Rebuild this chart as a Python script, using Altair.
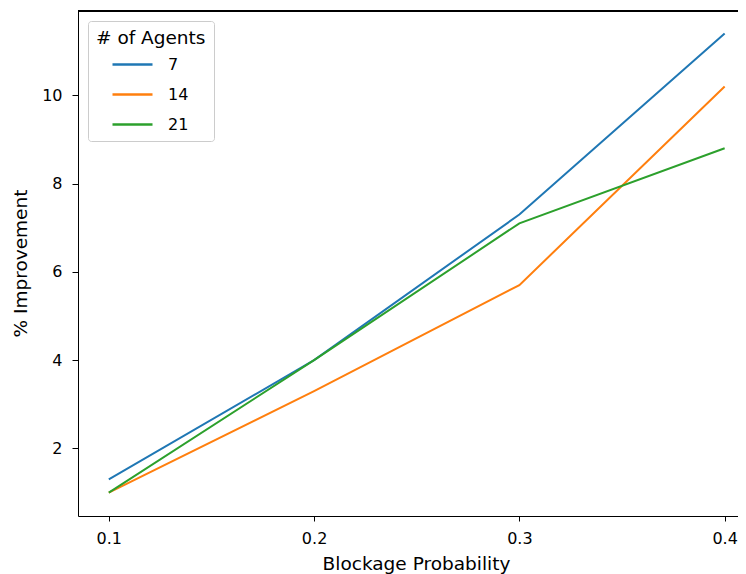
import altair as alt
import pandas as pd

blockage = [0.1, 0.2, 0.3, 0.4]
agents_7 = [1.3, 4.0, 7.3, 11.4]
agents_14 = [1.0, 3.3, 5.7, 10.2]
agents_21 = [1.0, 4.0, 7.1, 8.8]
series_names = ["7", "14", "21"]
colors = ["#1f77b4", "#ff7f0e", "#2ca02c"]

rows = []
for name, vals in zip(series_names, [agents_7, agents_14, agents_21]):
    for x, y in zip(blockage, vals):
        rows.append({"p": x, "imp": y, "agents": name})
df = pd.DataFrame(rows)

W, H = 660, 505
FONT = "DejaVu Sans"

lines = alt.Chart(df).mark_line(strokeWidth=2, clip=True).encode(
    x=alt.X("p:Q", scale=alt.Scale(domain=[0.085, 0.4065], nice=False, zero=False),
            axis=alt.Axis(values=blockage, format=".1f", title="Blockage Probability",
                          grid=False, tickSize=5, labelPadding=9, domainColor="black",
                          tickColor="black", labelColor="black", labelFontSize=16,
                          titleFontSize=18.5, titleFontWeight="normal", titleColor="black",
                          titleX=338, titleY=53.5, titleBaseline="alphabetic",
                          labelFont=FONT, titleFont=FONT)),
    y=alt.Y("imp:Q", scale=alt.Scale(domain=[0.47, 11.91], nice=False, zero=False),
            axis=alt.Axis(values=[2, 4, 6, 8, 10], title="% Improvement", grid=False,
                          tickSize=6, labelPadding=10, domainColor="black", tickColor="black",
                          labelColor="black", labelFontSize=16, titleFontSize=18.5,
                          titleFontWeight="normal", titleColor="black",
                          titleX=-52, titleY=252, titleAngle=270, titleBaseline="alphabetic",
                          labelFont=FONT, titleFont=FONT)),
    color=alt.Color("agents:N", sort=series_names,
                    scale=alt.Scale(domain=series_names, range=colors),
                    legend=alt.Legend(title="# of Agents", orient="none", legendX=10, legendY=10,
                                      symbolType="stroke", symbolSize=1600, symbolStrokeWidth=2.5,
                                      rowPadding=-12, symbolOffset=15, labelOffset=14,
                                      fillColor="white", strokeColor="#cccccc", cornerRadius=3,
                                      padding=8, titleFontSize=18.5, titleFontWeight="normal",
                                      titleColor="black", labelFontSize=16, labelColor="black",
                                      titleFont=FONT, labelFont=FONT,
                                      titlePadding=-4.5)),
)

top_rule = alt.Chart(df).mark_rule(color="black", strokeWidth=1).encode(
    x=alt.value(0), x2=alt.value(W), y=alt.value(0)
)

chart = alt.layer(lines, top_rule).properties(
    width=W, height=H,
    autosize=alt.AutoSizeParams(type="none"),
    padding={"left": 70, "top": 3, "right": 0, "bottom": 58},
).configure_view(stroke=None)

chart.save("out.html", embed_options={"renderer": "svg", "actions": False})
